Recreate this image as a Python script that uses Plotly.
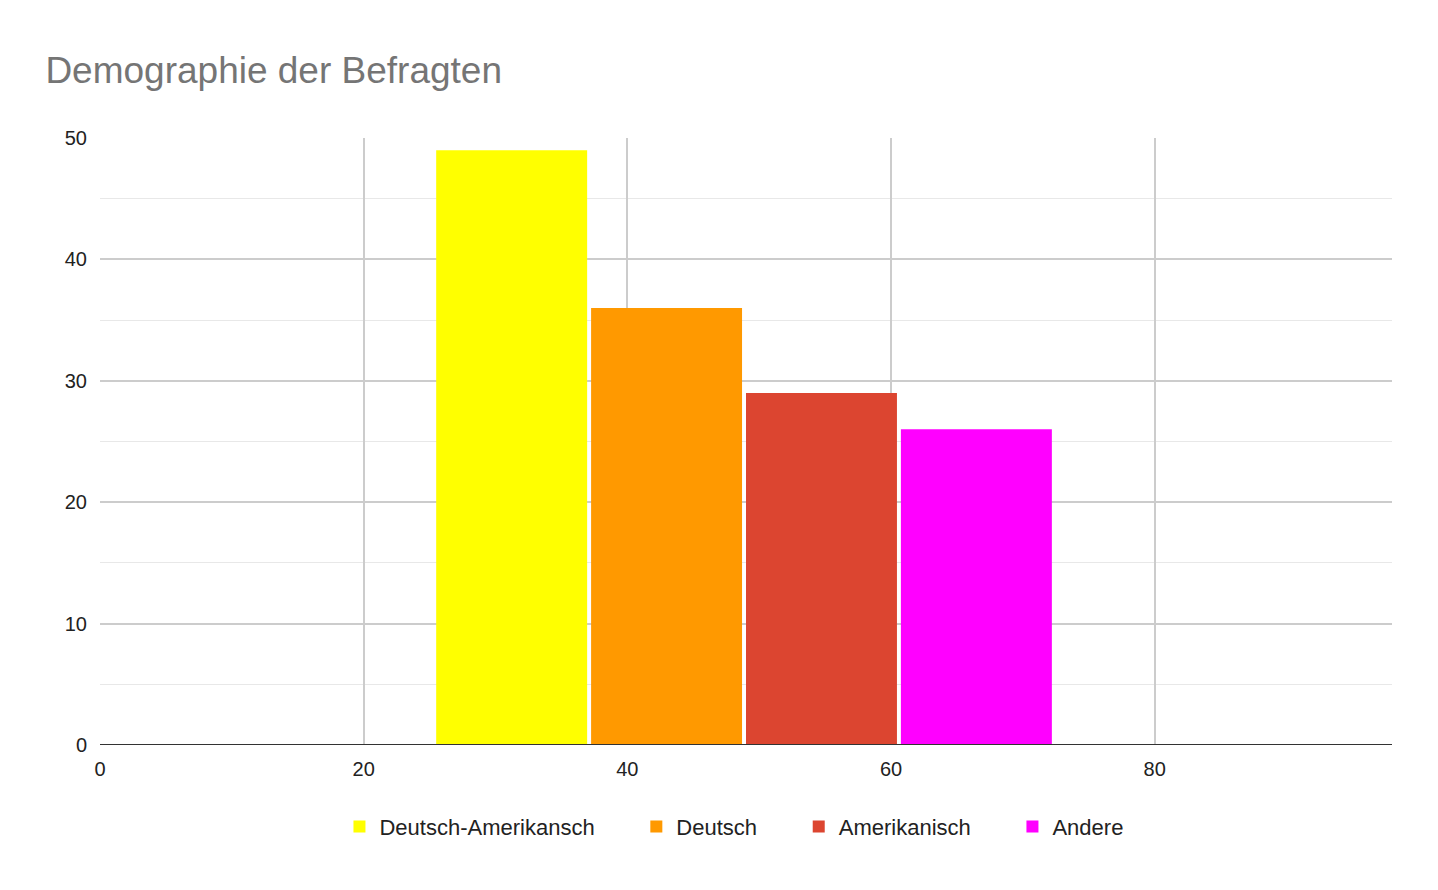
import plotly.graph_objects as go

series = ["Deutsch-Amerikansch", "Deutsch", "Amerikanisch", "Andere"]
values = [49, 36, 29, 26]
x_value = 49
colors = ["#ffff00", "#ff9900", "#dc4530", "#ff00ff"]

fig = go.Figure()
for i, (name, v, c) in enumerate(zip(series, values, colors)):
    fig.add_trace(go.Bar(x=[x_value], y=[v], name=name, marker_color=c, showlegend=False,
                         marker_line_width=0, width=11.45, offset=-23.5 + 11.75 * i))
for name, c in zip(series, colors):
    fig.add_trace(go.Scatter(x=[None], y=[None], mode="markers", name=name + "      ",
                             marker=dict(symbol="square", size=24, color=c)))

fig.update_layout(
    width=1438, height=890, plot_bgcolor="white", paper_bgcolor="white",
    font=dict(family="Liberation Sans, Arial", size=20, color="#222"),
    title=dict(text="Demographie der Befragten", x=0.026, y=0.93, xanchor="left", yanchor="middle",
               font=dict(size=37, color="#757575")),
    margin=dict(l=92, r=54, t=130, b=153),
    legend=dict(orientation="h", x=0.505, xanchor="center", y=-0.1, yanchor="top",
                font=dict(size=22, color="#222"), itemsizing="constant"),
    xaxis=dict(range=[0, 98], tickvals=[0, 20, 40, 60, 80], showgrid=True, gridcolor="#cccccc",
               gridwidth=1.5, zeroline=False, showline=False, ticks="", ticklabelstandoff=10),
    yaxis=dict(range=[0, 50], dtick=10, showgrid=True, gridcolor="#cccccc", gridwidth=1.5,
               zeroline=False, ticks="", showline=False, ticklabelstandoff=12,
               minor=dict(dtick=5, showgrid=True, gridcolor="#e8e8e8", gridwidth=1)),
)
fig.add_shape(type="line", xref="paper", yref="y", x0=0, x1=1, y0=0, y1=0,
              line=dict(color="#333", width=2))
fig.write_html("out.html")
